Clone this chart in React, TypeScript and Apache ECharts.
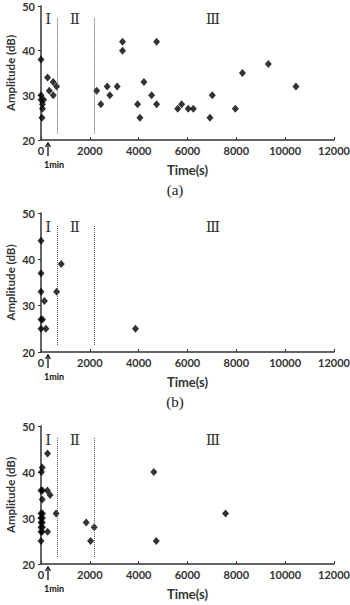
import React, { useEffect, useRef } from "react";
import * as echarts from "echarts";

// Time (s), Amplitude (dB)
const panelA: number[][] = [
  [0, 38], [0, 30], [0, 29], [60, 28], [60, 27], [110, 29], [40, 25],
  [270, 34], [340, 31], [500, 33], [500, 30], [640, 32],
  [2280, 31], [2450, 28], [2710, 32], [2820, 30], [3120, 32], [3340, 42], [3340, 40],
  [3955, 28], [4050, 25], [4215, 33], [4530, 30], [4735, 42], [4735, 28],
  [5600, 27], [5760, 28], [6030, 27], [6240, 27], [6920, 25], [7015, 30],
  [7960, 27], [8250, 35], [9310, 37], [10440, 32],
];
const panelB: number[][] = [
  [0, 44], [0, 37], [0, 33], [0, 27], [60, 27], [0, 25], [200, 25], [140, 31],
  [640, 33], [830, 39], [3870, 25],
];
const panelC: number[][] = [
  [50, 41], [20, 40], [270, 44], [0, 36], [60, 36], [260, 36], [370, 35], [50, 34],
  [0, 31], [60, 31], [0, 30], [60, 30], [0, 29], [50, 29], [0, 28], [60, 28],
  [0, 27], [40, 27], [270, 27], [0, 25], [620, 31], [1850, 29], [2030, 25],
  [2180, 28], [4620, 40], [4720, 25], [7560, 31],
];
const panels = [panelA, panelB, panelC];
const captions = ["(a)", "(b)", ""];

const boundaries = [680, 2180];
const regionNames = ["Ⅰ", "Ⅱ", "Ⅲ"];
const regionNameX = [300, 1390, 7040];
const regionNameY = 47;
const boundaryFrom = 21.5;
const boundaryTo = 47.4;

const xMin = 0, xMax = 12000, xStep = 2000;
const yMin = 20, yMax = 50, yStep = 10;

const gridTops = [6, 213, 426];
const gridHeights = [134, 139, 138];

const sansFont = "Lato, 'Open Sans', sans-serif";
const serifFont = "'Liberation Serif', 'DejaVu Serif', serif";

export default function App() {
  const ref = useRef<HTMLDivElement>(null);
  useEffect(() => {
    document.body.style.margin = "0";
    if (!ref.current) return;
    const chart = echarts.init(ref.current, undefined, { renderer: "svg" });

    const grid = panels.map((_, i) => ({
      left: 41, width: 293, top: gridTops[i], height: gridHeights[i],
      containLabel: false, outerBoundsMode: "none",
    }));
    const axisText = { fontFamily: sansFont, fontSize: 11, fontWeight: "bold" as const, color: "#333" };
    const xAxis = panels.map((_, i) => ({
      gridIndex: i, type: "value" as const, min: xMin, max: xMax, interval: xStep,
      axisLine: { show: true, onZero: false, lineStyle: { color: "#333", width: 1.5 } },
      axisTick: { show: true, inside: true, length: 3, lineStyle: { color: "#333" } },
      splitLine: { show: false },
      axisLabel: { ...axisText, margin: 5, formatter: (v: number) => String(v) },
      name: "Time(s)", nameLocation: "middle" as const, nameGap: 23, nameMoveOverlap: false,
      nameTextStyle: { fontFamily: sansFont, fontSize: 13, fontWeight: "bold" as const, color: "#333" },
    }));
    const yAxis = panels.map((_, i) => ({
      gridIndex: i, type: "value" as const, min: yMin, max: yMax, interval: yStep,
      axisLine: { show: true, lineStyle: { color: "#333", width: 1.5 } },
      axisTick: { show: true, length: 3, lineStyle: { color: "#333" } },
      splitLine: { show: false },
      axisLabel: { ...axisText, margin: 6, formatter: (v: number) => String(v) },
      name: "Amplitude (dB)", nameLocation: "middle" as const, nameGap: 25, nameMoveOverlap: false,
      nameTextStyle: { fontFamily: sansFont, fontSize: 11.5, lineHeight: 11, fontWeight: "bold" as const, color: "#333" },
    }));
    const series = panels.map((data, i) => ({
      type: "scatter" as const, xAxisIndex: i, yAxisIndex: i, data,
      symbol: "diamond", symbolSize: [7, 8],
      itemStyle: { color: "#000" },
      markLine: {
        silent: true, symbol: ["none", "none"],
        lineStyle: { type: "dotted" as const, color: "#555", width: 1 },
        label: { show: false },
        data: boundaries.map((b) => [{ coord: [b, boundaryFrom] }, { coord: [b, boundaryTo] }]),
      },
      markPoint: {
        silent: true, symbol: "rect", symbolSize: 1,
        itemStyle: { color: "rgba(0,0,0,0)" },
        label: {
          show: true, position: "inside" as const, fontFamily: serifFont, fontSize: 15, color: "#333",
          formatter: (p: any) => p.name,
        },
        data: regionNames.map((n, k) => ({ name: n, coord: [regionNameX[k], regionNameY] })),
      },
    }));

    const graphic: any[] = [];
    panels.forEach((_, i) => {
      const bottom = gridTops[i] + gridHeights[i];
      graphic.push(
        { type: "line", z: 100, shape: { x1: 48, y1: bottom + 16, x2: 48, y2: bottom + 3 }, style: { stroke: "#111", lineWidth: 1.3 } },
        { type: "polyline", z: 100, shape: { points: [[45.5, bottom + 7], [48, bottom + 3], [50.5, bottom + 7]] }, style: { stroke: "#111", lineWidth: 1.3, fill: null } },
        { type: "text", z: 100, x: 54, y: bottom + 24, style: { text: "1min", font: "bold 9px " + sansFont, fill: "#111", textAlign: "center", textVerticalAlign: "middle" } },
      );
      if (captions[i]) {
        graphic.push({
          type: "text", x: 175, y: bottom + 50,
          style: { text: captions[i], font: "15px " + serifFont, fill: "#222", textAlign: "center", textVerticalAlign: "middle" },
        });
      }
    });

    chart.setOption({ animation: false, grid, xAxis, yAxis, series, graphic });
    return () => chart.dispose();
  }, []);
  return <div ref={ref} style={{ width: 350, height: 605 }} />;
}
